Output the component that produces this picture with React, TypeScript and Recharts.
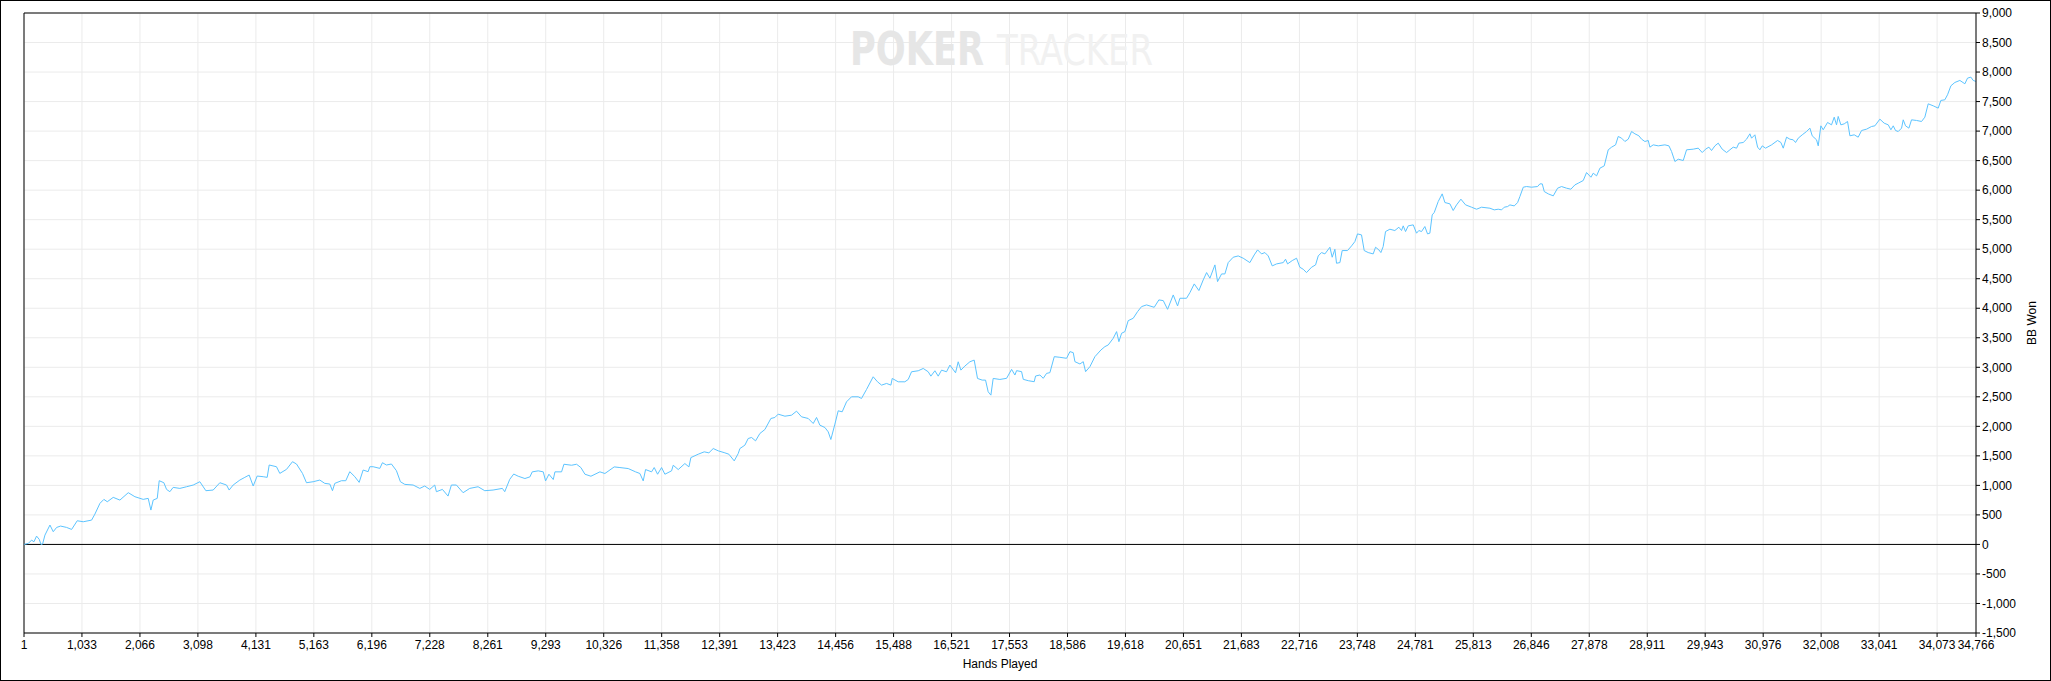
import React from 'react';
import {
  LineChart,
  Line,
  XAxis,
  YAxis,
  CartesianGrid,
  ReferenceLine,
  Customized,
} from 'recharts';

const hands: number[] = [
  1, 77, 136, 178, 225, 273, 303, 332, 374, 463, 522, 582, 653, 760, 849, 949, 1056, 1205, 1264, 1353,
  1424, 1484, 1590, 1709, 1858, 1976, 2124, 2213, 2261, 2302, 2374, 2409, 2492, 2540, 2599, 2658, 2777, 2896, 3015, 3133,
  3240, 3370, 3489, 3608, 3655, 3726, 3845, 3934, 4011, 4083, 4154, 4261, 4332, 4368, 4498, 4557, 4676, 4783, 4854, 4961,
  5032, 5151, 5269, 5358, 5447, 5495, 5536, 5655, 5732, 5803, 5893, 5970, 6041, 6130, 6160, 6219, 6338, 6385, 6456, 6545,
  6634, 6705, 6783, 6931, 7050, 7138, 7227, 7316, 7346, 7453, 7553, 7613, 7702, 7821, 7940, 8088, 8207, 8355, 8521, 8563,
  8652, 8723, 8803, 8922, 9011, 9053, 9160, 9249, 9290, 9350, 9427, 9457, 9575, 9617, 9753, 9842, 9919, 9991, 10098, 10258,
  10347, 10513, 10614, 10762, 10893, 10970, 11029, 11071, 11178, 11225, 11285, 11356, 11415, 11534, 11564, 11653, 11771, 11843, 11878, 12009,
  12116, 12199, 12276, 12365, 12484, 12555, 12650, 12721, 12751, 12840, 12899, 12959, 13030, 13107, 13196, 13303, 13374, 13433, 13553, 13671,
  13760, 13849, 13968, 14057, 14116, 14175, 14265, 14324, 14371, 14443, 14502, 14573, 14650, 14739, 14858, 14917, 15006, 15125, 15202, 15274,
  15363, 15440, 15464, 15570, 15689, 15749, 15808, 15927, 16016, 16105, 16152, 16224, 16283, 16343, 16431, 16491, 16592, 16639, 16687, 16757,
  16847, 16924, 16983, 17066, 17126, 17173, 17221, 17262, 17381, 17501, 17590, 17649, 17679, 17768, 17798, 17887, 17993, 18017, 18094, 18154,
  18213, 18272, 18350, 18450, 18569, 18629, 18688, 18718, 18807, 18866, 18908, 18985, 19074, 19181, 19252, 19311, 19400, 19460, 19501, 19549,
  19608, 19667, 19756, 19834, 19905, 19994, 20130, 20213, 20291, 20368, 20469, 20546, 20588, 20706, 20766, 20843, 20926, 21003, 21063, 21122,
  21211, 21258, 21330, 21389, 21448, 21537, 21626, 21715, 21834, 21911, 21971, 22042, 22101, 22161, 22232, 22309, 22428, 22469, 22505, 22588,
  22665, 22724, 22784, 22843, 22932, 23004, 23051, 23110, 23170, 23259, 23300, 23348, 23377, 23437, 23478, 23573, 23645, 23704, 23751, 23822,
  23870, 23941, 24030, 24072, 24131, 24167, 24208, 24250, 24327, 24416, 24487, 24535, 24565, 24606, 24654, 24743, 24802, 24843, 24891, 24950,
  24998, 25039, 25081, 25117, 25188, 25259, 25307, 25396, 25455, 25515, 25592, 25675, 25782, 25871, 25960, 26109, 26186, 26257, 26317, 26364,
  26424, 26465, 26542, 26602, 26643, 26703, 26762, 26851, 26958, 26999, 27041, 27077, 27148, 27237, 27314, 27385, 27474, 27551, 27623, 27682,
  27771, 27830, 27908, 27949, 28009, 28068, 28145, 28216, 28276, 28347, 28394, 28454, 28513, 28572, 28632, 28691, 28762, 28810, 28869, 28929,
  28958, 29018, 29107, 29225, 29297, 29344, 29404, 29463, 29552, 29611, 29730, 29819, 29890, 29950, 30009, 30056, 30116, 30175, 30246, 30324,
  30383, 30442, 30502, 30543, 30620, 30680, 30739, 30769, 30828, 30876, 30917, 30959, 31018, 31125, 31232, 31291, 31333, 31392, 31451, 31511,
  31552, 31600, 31671, 31748, 31808, 31849, 31926, 31956, 32003, 32045, 32122, 32193, 32241, 32282, 32312, 32359, 32419, 32478, 32520, 32597,
  32668, 32728, 32817, 32906, 32965, 33054, 33131, 33203, 33250, 33292, 33333, 33381, 33440, 33470, 33511, 33571, 33618, 33707, 33796, 33855,
  33915, 34004, 34093, 34140, 34211, 34259, 34319, 34390, 34479, 34568, 34615, 34675, 34716, 34764,
];

const bbWon: number[] = [
  0, 17, 73, 45, 141, 85, 0, 6, 158, 328, 215, 288, 311, 288, 254, 401, 384, 412, 514, 695,
  763, 723, 797, 751, 876, 808, 763, 780, 582, 751, 780, 1079, 1045, 932, 893, 966, 949, 977, 1006, 1062,
  910, 921, 1045, 1006, 921, 1006, 1090, 1136, 1175, 989, 1158, 1147, 1136, 1345, 1316, 1203, 1271, 1401, 1362, 1203,
  1045, 1062, 1090, 1034, 1023, 910, 1034, 1079, 1079, 1232, 1147, 1051, 1260, 1232, 1316, 1316, 1288, 1384, 1345, 1362,
  1249, 1062, 1017, 1006, 949, 989, 932, 1006, 893, 932, 819, 1006, 1006, 876, 949, 977, 910, 921, 949, 893,
  1102, 1192, 1155, 1116, 1144, 1229, 1246, 1229, 1076, 1189, 1099, 1229, 1229, 1358, 1341, 1358, 1302, 1189, 1155, 1229,
  1201, 1313, 1302, 1285, 1229, 1201, 1076, 1268, 1229, 1302, 1189, 1302, 1189, 1246, 1341, 1268, 1370, 1313, 1471, 1528,
  1568, 1551, 1624, 1585, 1551, 1528, 1415, 1539, 1624, 1681, 1794, 1811, 1754, 1879, 1946, 2133, 2150, 2206, 2172, 2189,
  2257, 2161, 2133, 2048, 2150, 2020, 1980, 1907, 1777, 2037, 2263, 2246, 2415, 2500, 2500, 2472, 2624, 2839, 2754, 2698,
  2726, 2698, 2811, 2754, 2754, 2794, 2924, 2941, 2980, 2924, 2850, 2941, 2850, 2952, 2924, 3037, 2907, 3093, 2952, 3020,
  3093, 3122, 2811, 2783, 2783, 2585, 2528, 2811, 2794, 2813, 2965, 2869, 2943, 2926, 2796, 2773, 2756, 2852, 2869, 2813,
  2897, 2909, 3180, 3169, 3152, 3265, 3248, 3095, 3056, 3095, 2926, 3011, 3180, 3293, 3350, 3378, 3491, 3604, 3434, 3576,
  3604, 3790, 3830, 3943, 4028, 4056, 4016, 4141, 4129, 3982, 4225, 4039, 4169, 4169, 4265, 4412, 4299, 4480, 4604, 4508,
  4734, 4451, 4581, 4581, 4773, 4864, 4886, 4847, 4773, 4903, 4988, 4920, 4943, 4886, 4717, 4751, 4773, 4830, 4751, 4807,
  4847, 4694, 4660, 4604, 4694, 4734, 4886, 4943, 4920, 5033, 4864, 4999, 4762, 4773, 4977, 4977, 5056, 5129, 5259, 5242,
  4977, 4943, 4920, 5033, 4988, 4943, 5045, 5299, 5338, 5316, 5372, 5316, 5395, 5299, 5395, 5412, 5271, 5316, 5299, 5384,
  5259, 5271, 5581, 5621, 5807, 5937, 5790, 5768, 5655, 5751, 5847, 5751, 5711, 5677, 5711, 5694, 5666, 5677, 5666, 5711,
  5722, 5750, 5733, 5790, 5892, 6050, 6061, 6050, 6061, 6106, 6106, 5976, 5937, 5903, 6033, 6061, 6033, 6016, 6089, 6118,
  6163, 6298, 6219, 6287, 6242, 6372, 6411, 6683, 6728, 6767, 6909, 6880, 6824, 6863, 6993, 6954, 6920, 6863, 6824, 6841,
  6728, 6767, 6750, 6767, 6750, 6654, 6485, 6524, 6502, 6683, 6694, 6711, 6637, 6694, 6728, 6671, 6750, 6796, 6694, 6637,
  6683, 6728, 6711, 6796, 6807, 6863, 6954, 6880, 6937, 6728, 6683, 6750, 6711, 6767, 6841, 6807, 6711, 6897, 6863, 6852,
  6807, 6880, 6937, 6993, 7050, 6920, 6852, 6750, 7089, 7022, 7146, 7106, 7236, 7106, 7248, 7106, 7123, 7163, 6920, 6937,
  6897, 7010, 7033, 7078, 7089, 7202, 7134, 7106, 7022, 7089, 7010, 6993, 7050, 7191, 7089, 7050, 7191, 7180, 7163, 7236,
  7462, 7428, 7389, 7519, 7530, 7615, 7767, 7824, 7858, 7801, 7897, 7914, 7858, 7841,
];

const xTicks: number[] = [
  1, 1033, 2066, 3098, 4131, 5163, 6196, 7228, 8261, 9293, 10326, 11358, 12391, 13423, 14456, 15488, 16521, 17553,
  18586, 19618, 20651, 21683, 22716, 23748, 24781, 25813, 26846, 27878, 28911, 29943, 30976, 32008, 33041, 34073, 34766,
];

const yTicks: number[] = [
  -1500, -1000, -500, 0, 500, 1000, 1500, 2000, 2500, 3000, 3500, 4000, 4500, 5000, 5500, 6000, 6500, 7000, 7500, 8000,
  8500, 9000,
];

const data = hands.map((h, i) => ({ hand: h, bb: bbWon[i] }));

const FONT = '"Liberation Sans", Arial, sans-serif';
const NARROW = '"Liberation Sans Narrow", "DejaVu Sans Condensed", "Liberation Sans", sans-serif';
const fmt = (v: number) => v.toLocaleString('en-US');

const Watermark = () => (
  <g>
    <text
      x={849}
      y={64}
      fontFamily={NARROW}
      fontWeight="bold"
      fontSize={46}
      fill="#e6e6e6"
      textLength={134}
      lengthAdjust="spacingAndGlyphs"
    >
      POKER
    </text>
    <text
      x={996}
      y={64}
      fontFamily={NARROW}
      fontSize={42}
      fill="#f1f1f1"
      textLength={156}
      lengthAdjust="spacingAndGlyphs"
    >
      TRACKER
    </text>
  </g>
);

const XLabel = (props: any) => {
  const vb = props.viewBox || { x: 23, y: 632, width: 1952, height: 30 };
  return (
    <text
      x={vb.x + vb.width / 2}
      y={vb.y + 31}
      textAnchor="middle"
      dominantBaseline="central"
      fontFamily={FONT}
      fontSize={12}
      fill="#000"
    >
      Hands Played
    </text>
  );
};

const YLabel = (props: any) => {
  const vb = props.viewBox || { x: 1975, y: 12, width: 60, height: 620 };
  const cx = vb.x + 56;
  const cy = vb.y + vb.height / 2;
  return (
    <text
      x={cx}
      y={cy}
      transform={`rotate(-90, ${cx}, ${cy})`}
      textAnchor="middle"
      dominantBaseline="central"
      fontFamily={FONT}
      fontSize={12}
      fill="#000"
    >
      BB Won
    </text>
  );
};

export default function App() {
  return (
    <div
      style={{
        position: 'absolute',
        left: 0,
        top: 0,
        width: 2051,
        height: 681,
        boxSizing: 'border-box',
        border: '1px solid #000',
        background: '#fff',
      }}
    >
      <LineChart
        width={2049}
        height={679}
        data={data}
        margin={{ top: 12, left: 23, right: 14, bottom: 17 }}
      >
        <Customized component={Watermark} />
        <CartesianGrid stroke="#ebebeb" strokeWidth={1} />
        <XAxis
          dataKey="hand"
          type="number"
          domain={[1, 34766]}
          ticks={xTicks}
          interval={0}
          tickFormatter={fmt}
          height={30}
          tickSize={4}
          tickMargin={3}
          stroke="#000"
          axisLine={{ stroke: '#000' }}
          tickLine={{ stroke: '#000' }}
          tick={{ fontSize: 12, fill: '#000', fontFamily: FONT }}
          allowDataOverflow
          label={{ content: XLabel }}
        />
        <YAxis
          orientation="right"
          type="number"
          domain={[-1500, 9000]}
          ticks={yTicks}
          interval={0}
          tickFormatter={fmt}
          width={60}
          tickSize={4}
          tickMargin={2}
          stroke="#000"
          axisLine={{ stroke: '#000' }}
          tickLine={{ stroke: '#000' }}
          tick={{ fontSize: 12, fill: '#000', fontFamily: FONT, textAnchor: 'start' }}
          allowDataOverflow
          label={{ content: YLabel }}
        />
        <ReferenceLine y={9000} stroke="#000" strokeWidth={1} />
        <ReferenceLine x={1} stroke="#000" strokeWidth={1} />
        <ReferenceLine y={0} stroke="#000" strokeWidth={1} />
        <Line
          type="linear"
          dataKey="bb"
          stroke="#5cc4ff"
          strokeWidth={1}
          dot={false}
          activeDot={false}
          isAnimationActive={false}
        />
      </LineChart>
    </div>
  );
}
